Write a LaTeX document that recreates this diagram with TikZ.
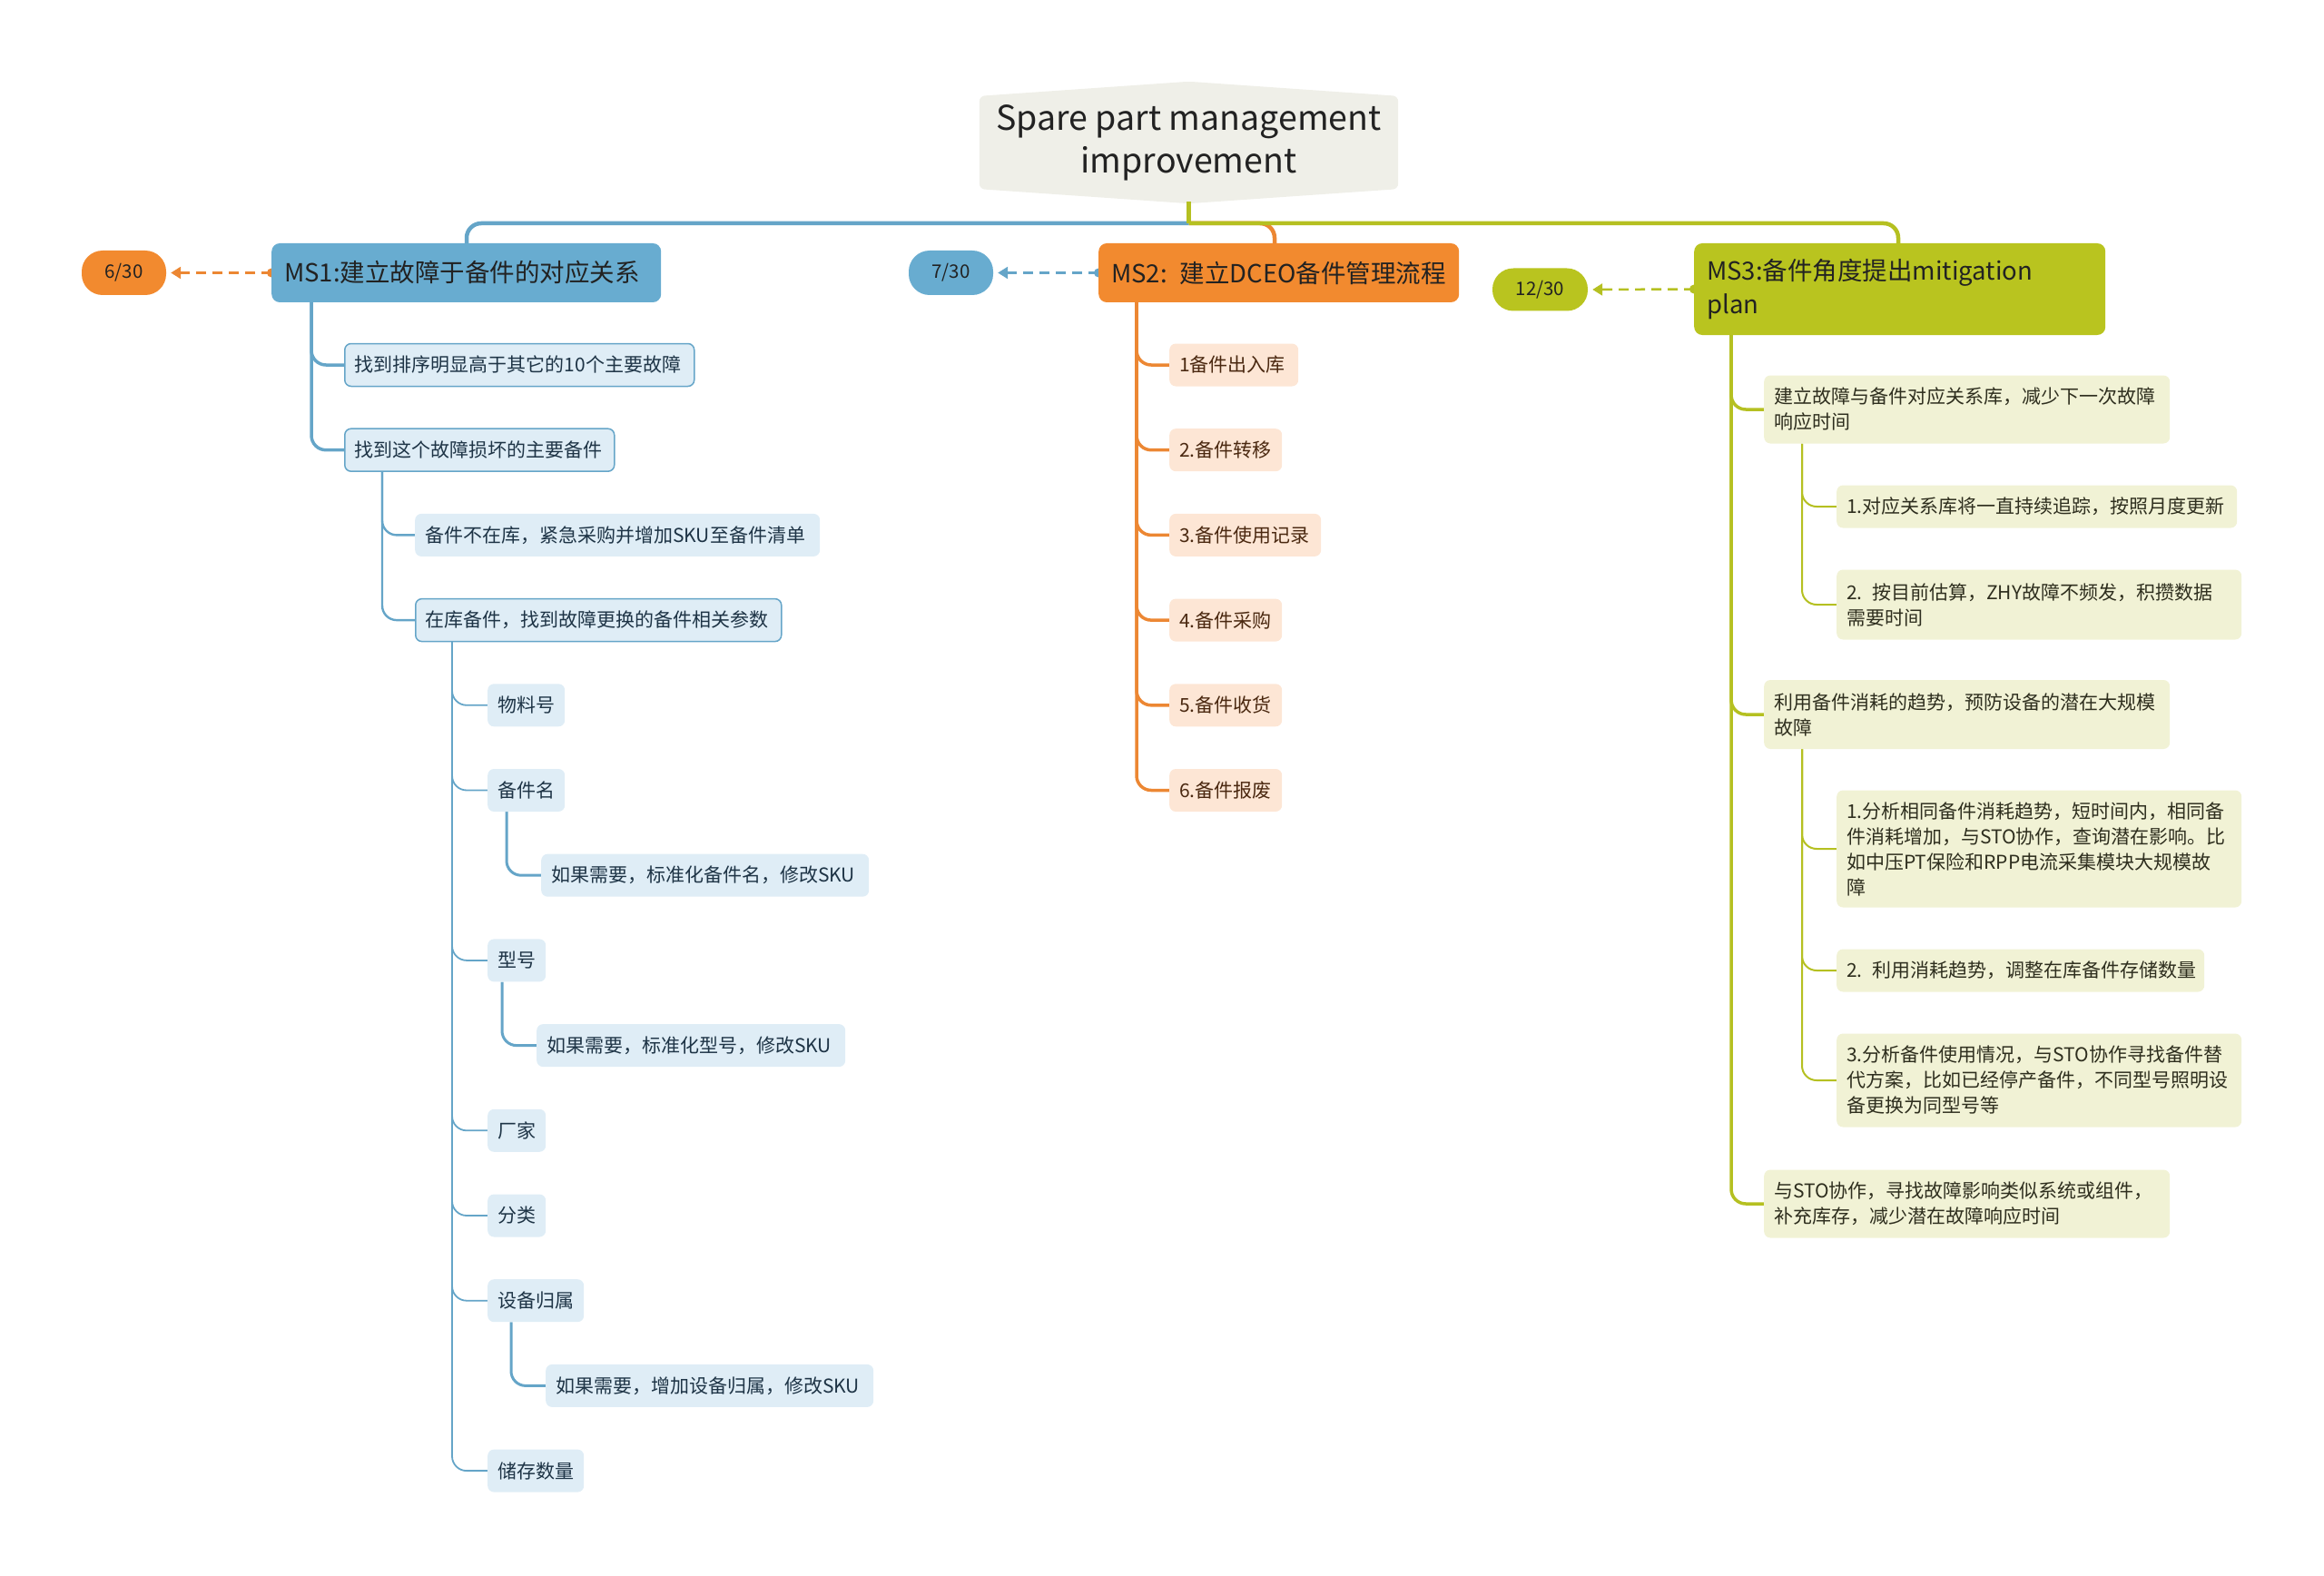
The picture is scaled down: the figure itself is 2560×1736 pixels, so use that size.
\documentclass[tikz,border=0pt]{standalone}
\usepackage{fontspec}
\setmainfont{Noto Sans CJK SC}
\usetikzlibrary{arrows.meta,backgrounds}
\definecolor{rootfill}{HTML}{EFEFE8}
\definecolor{bfill}{HTML}{68ACD0}
\definecolor{bline}{HTML}{65A5C8}
\definecolor{bchild}{HTML}{DFEDF6}
\definecolor{btext}{HTML}{1E3446}
\definecolor{ofill}{HTML}{F28A2F}
\definecolor{oline}{HTML}{EC8733}
\definecolor{ochild}{HTML}{FDE6D5}
\definecolor{otext}{HTML}{4A2810}
\definecolor{gfill}{HTML}{B9C41F}
\definecolor{gline}{HTML}{B5C021}
\definecolor{gchild}{HTML}{F1F2D5}
\definecolor{gtext}{HTML}{2E2E1E}
\definecolor{tdark}{HTML}{222222}
\tikzset{
  box/.style={anchor=west, rounded corners=7pt, inner xsep=11pt, inner ysep=0pt,
    minimum height=47pt, align=left, font=\fontsize{21}{28}\selectfont},
  bluebox/.style={box, fill=bchild, text=btext},
  bluebord/.style={bluebox, draw=bline, line width=1.5pt},
  orbox/.style={box, fill=ochild, text=otext},
  grbox/.style={box, fill=gchild, text=gtext},
  msbox/.style={anchor=west, rounded corners=9pt, inner xsep=14pt, inner ysep=0pt,
    align=left, font=\fontsize{27.5}{37}\selectfont, text=tdark},
  pill/.style={rounded corners=23pt, inner sep=0pt, font=\fontsize{20.5}{20.5}\selectfont, text=tdark},
  conn/.style={rounded corners=16pt},
  dasharrow/.style={line width=2.5pt, dash pattern=on 11pt off 7pt,
    -{Triangle[length=11pt,width=13pt]}, shorten >=5pt},
}
\begin{document}
\begin{tikzpicture}[x=1pt,y=-1pt]
\useasboundingbox (0,0) rectangle (2560,1736);

% root
\node[minimum width=461pt, minimum height=102pt, inner sep=0pt, align=center,
  font=\fontsize{37.5}{47}\selectfont, text=tdark] (root) at (1309.5,157) {Spare part management\\improvement};

% milestone boxes
\node[msbox, fill=bfill, minimum height=65pt, text width=401pt] (ms1) at (299,300.5) {MS1:建立故障于备件的对应关系};
\node[msbox, fill=ofill, minimum height=65pt, text width=369pt] (ms2) at (1210,300.5) {MS2: 建立DCEO备件管理流程};
\node[msbox, fill=gfill, minimum height=101pt, text width=425pt] (ms3) at (1866,318.5) {MS3:备件角度提出mitigation\\plan};

% pills
\node[pill, fill=ofill, minimum width=93pt, minimum height=49pt] (p1) at (136.5,300.5) {6/30};
\node[pill, fill=bfill, minimum width=93pt, minimum height=49pt] (p2) at (1047.5,300.5) {7/30};
\node[pill, fill=gfill, minimum width=105pt, minimum height=47pt] (p3) at (1696.5,319) {12/30};

% MS1 subtree
\node[bluebord, text width=363pt] (a1) at (379,402) {找到排序明显高于其它的10个主要故障};
\node[bluebord, text width=275pt] (a2) at (379,495.7) {找到这个故障损坏的主要备件};
\node[bluebox, text width=424pt] (b1) at (457,589.4) {备件不在库，紧急采购并增加SKU至备件清单};
\node[bluebord, text width=381pt] (b2) at (457,683.1) {在库备件，找到故障更换的备件相关参数};
\node[bluebox, text width=63pt] (c1) at (537,776.8) {物料号};
\node[bluebox, text width=63pt] (c2) at (537,870.5) {备件名};
\node[bluebox, text width=339pt] (c2a) at (596,964.2) {如果需要，标准化备件名，修改SKU};
\node[bluebox, text width=42pt] (c3) at (537,1057.9) {型号};
\node[bluebox, text width=318pt] (c3a) at (591,1151.6) {如果需要，标准化型号，修改SKU};
\node[bluebox, text width=42pt] (c4) at (537,1245.3) {厂家};
\node[bluebox, text width=42pt] (c5) at (537,1339) {分类};
\node[bluebox, text width=84pt] (c6) at (537,1432.7) {设备归属};
\node[bluebox, text width=339pt] (c6a) at (601,1526.4) {如果需要，增加设备归属，修改SKU};
\node[bluebox, text width=84pt] (c7) at (537,1620.1) {储存数量};

% MS2 subtree
\node[orbox, text width=120pt] (m1) at (1288,402) {1备件出入库};
\node[orbox, text width=102pt] (m2) at (1288,495.7) {2.备件转移};
\node[orbox, text width=145pt] (m3) at (1288,589.4) {3.备件使用记录};
\node[orbox, text width=102pt] (m4) at (1288,683.1) {4.备件采购};
\node[orbox, text width=102pt] (m5) at (1288,776.8) {5.备件收货};
\node[orbox, text width=102pt] (m6) at (1288,870.5) {6.备件报废};

% MS3 subtree
\node[grbox, text width=425pt, minimum height=75pt] (d1) at (1943,451) {建立故障与备件对应关系库，减少下一次故障\\响应时间};
\node[grbox, text width=419pt] (d1a) at (2023,558) {1.对应关系库将一直持续追踪，按照月度更新};
\node[grbox, text width=424pt, minimum height=77pt] (d1b) at (2023,666) {2. 按目前估算，ZHY故障不频发，积攒数据\\需要时间};
\node[grbox, text width=425pt, minimum height=76pt] (d2) at (1943,787) {利用备件消耗的趋势，预防设备的潜在大规模\\故障};
\node[grbox, text width=424pt, minimum height=129pt] (d2a) at (2023,935) {1.分析相同备件消耗趋势，短时间内，相同备\\件消耗增加，与STO协作，查询潜在影响。比\\如中压PT保险和RPP电流采集模块大规模故\\障};
\node[grbox, text width=383pt] (d2b) at (2023,1069) {2. 利用消耗趋势，调整在库备件存储数量};
\node[grbox, text width=424pt, minimum height=103pt] (d2c) at (2023,1190) {3.分析备件使用情况，与STO协作寻找备件替\\代方案，比如已经停产备件，不同型号照明设\\备更换为同型号等};
\node[grbox, text width=425pt, minimum height=75pt] (d3) at (1943,1326) {与STO协作，寻找故障影响类似系统或组件，\\补充库存，减少潜在故障响应时间};

\coordinate (j) at (1309.5,246);

\begin{scope}[on background layer]
  % root hexagon
  \fill[rootfill, rounded corners=6pt] (root.north west) -- ([yshift=16pt]root.north) -- (root.north east)
    -- (root.south east) -- ([yshift=-16pt]root.south) -- (root.south west) -- cycle;
  % top level connectors
  \draw[oline, line width=4.5pt, conn] (j) -| ([xshift=194pt]ms2.north west);
  \draw[bline, line width=4.5pt, conn] (j) -| ([xshift=215pt]ms1.north west);
  \draw[gline, line width=4.5pt, conn] (j) -| ([xshift=225pt]ms3.north west);
  \draw[gline, line width=4.5pt] ([yshift=-14pt]root.south) -- (j);

  % dashed date links
  \fill[oline] (ms1.west) circle (5pt);
  \draw[oline, dasharrow] (ms1.west) -- (p1.east);
  \fill[bline] (ms2.west) circle (5pt);
  \draw[bline, dasharrow] (ms2.west) -- (p2.east);
  \fill[gline] (ms3.west) circle (5pt);
  \draw[gline, dasharrow] (ms3.west) -- (p3.east);

  % MS1 connectors
  \foreach \n in {a1,a2}
    \draw[bline, line width=3.5pt, conn] ([xshift=44pt]ms1.south west) |- (\n.west);
  \foreach \n in {b1,b2}
    \draw[bline, line width=2.4pt, conn] ([xshift=42pt]a2.south west) |- (\n.west);
  \foreach \n in {c1,c2,c3,c4,c5,c6,c7}
    \draw[bline, line width=1.8pt, conn] ([xshift=41pt]b2.south west) |- (\n.west);
  \draw[bline, line width=3pt, conn] ([xshift=21pt]c2.south west) |- (c2a.west);
  \draw[bline, line width=3pt, conn] ([xshift=16pt]c3.south west) |- (c3a.west);
  \draw[bline, line width=3pt, conn] ([xshift=26pt]c6.south west) |- (c6a.west);

  % MS2 connectors
  \foreach \n in {m1,m2,m3,m4,m5,m6}
    \draw[oline, line width=3.5pt, conn] ([xshift=42pt]ms2.south west) |- (\n.west);

  % MS3 connectors
  \foreach \n in {d1,d2,d3}
    \draw[gline, line width=3.5pt, conn] ([xshift=41pt]ms3.south west) |- (\n.west);
  \foreach \n in {d1a,d1b}
    \draw[gline, line width=2pt, conn] ([xshift=42pt]d1.south west) |- (\n.west);
  \foreach \n in {d2a,d2b,d2c}
    \draw[gline, line width=2pt, conn] ([xshift=42pt]d2.south west) |- (\n.west);
\end{scope}
\end{tikzpicture}
\end{document}
